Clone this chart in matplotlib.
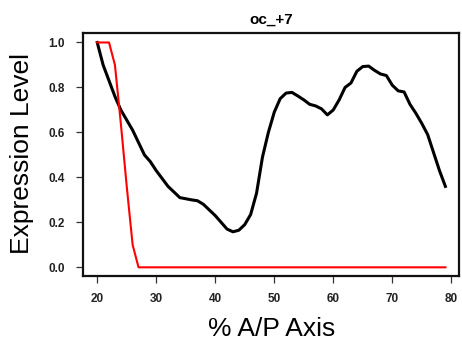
import matplotlib
matplotlib.use("Agg")
import matplotlib.pyplot as plt

# A/P axis position (%) and expression levels
ap_position = list(range(20, 80))
black_expr = [1.00, 0.90, 0.83, 0.76, 0.70, 0.655, 0.61, 0.555, 0.50, 0.47,
              0.43, 0.395, 0.36, 0.335, 0.31, 0.305, 0.30, 0.296, 0.28, 0.255,
              0.23, 0.20, 0.17, 0.158, 0.165, 0.19, 0.235, 0.33, 0.49, 0.60,
              0.69, 0.75, 0.775, 0.778, 0.762, 0.745, 0.725, 0.718, 0.705, 0.678,
              0.70, 0.745, 0.80, 0.82, 0.872, 0.893, 0.895, 0.876, 0.86, 0.853,
              0.81, 0.785, 0.78, 0.725, 0.685, 0.64, 0.59, 0.51, 0.43, 0.36]
red_expr = [1.00, 1.00, 1.00, 0.90, 0.64, 0.36, 0.10] + [0.0] * 53

x_ticks = [20, 30, 40, 50, 60, 70, 80]
y_ticks = [0.0, 0.2, 0.4, 0.6, 0.8, 1.0]

plt.rcParams['font.family'] = ['Liberation Sans', 'DejaVu Sans']

fig = plt.figure(figsize=(4.62, 3.45), dpi=100)
ax = fig.add_axes([0.1803, 0.1991, 0.8139, 0.7038])

ax.plot(ap_position, black_expr, color='black', lw=2.2, solid_joinstyle='round')
ax.plot(ap_position, red_expr, color='#ff0000', lw=1.5)

xmin, xmax = min(ap_position), max(ap_position)
xr = (xmax - xmin) * 0.04
ax.set_xlim(xmin - xr, xmax + xr)
ax.set_ylim(-0.04, 1.04)

ax.set_xticks(x_ticks)
ax.set_yticks(y_ticks)
ax.set_xticklabels([str(t) for t in x_ticks], fontsize=8.5, fontweight='bold', color='#222222')
ax.set_yticklabels([f"{t:.1f}" for t in y_ticks], fontsize=8.5, fontweight='bold', color='#222222')
ax.tick_params(axis='both', direction='out', length=5, width=0.9, color='#333333')
ax.tick_params(axis='x', pad=7)
ax.tick_params(axis='y', pad=8)

for s in ax.spines.values():
    s.set_linewidth(1.6)
    s.set_color('#111111')

ax.set_title('oc_+7', fontsize=11, fontweight='bold', pad=7)

fig.text(0.5877, 1 - 329 / 345, '% A/P Axis', fontsize=19, ha='center', va='center')
fig.text(22 / 462, 1 - 154 / 345, 'Expression Level', fontsize=19, ha='center',
         va='center', rotation=90)

fig.savefig('out.png', dpi=100)
